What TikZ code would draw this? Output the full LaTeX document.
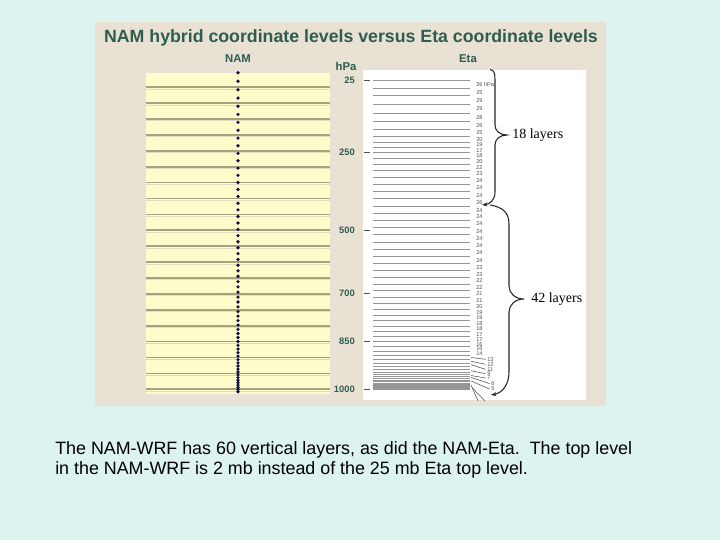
\documentclass[tikz,border=0pt]{standalone}
\usepackage{fontspec}
\setmainfont{Liberation Sans}
\newfontfamily\serifont{Liberation Serif}
\usetikzlibrary{arrows.meta}
\definecolor{bgcyan}{RGB}{221,243,240}
\definecolor{panelbg}{RGB}{232,225,212}
\definecolor{titlegreen}{RGB}{46,92,78}
\definecolor{namyellow}{RGB}{255,252,204}
\definecolor{oliveline}{RGB}{163,163,128}
\definecolor{olivelight}{RGB}{222,222,190}
\definecolor{dotnavy}{RGB}{16,16,72}
\definecolor{etagray}{RGB}{150,150,150}
\definecolor{labgray}{RGB}{80,80,80}
\frenchspacing
\begin{document}
\begin{tikzpicture}[x=0.75pt,y=-0.75pt,
  titletxt/.style={font=\fontsize{13.3pt}{15pt}\selectfont\bfseries, text=titlegreen, inner sep=0pt},
  headtxt/.style={font=\fontsize{8.5pt}{10pt}\selectfont\bfseries, text=titlegreen, inner sep=0pt},
  hpatxt/.style={font=\fontsize{7pt}{8pt}\selectfont\bfseries, text=titlegreen, inner sep=0pt, anchor=east},
  etalab/.style={font=\fontsize{4.2pt}{4.5pt}\selectfont, text=labgray, inner sep=0pt, anchor=west},
  namline/.style={draw=oliveline, line width=1.3pt},
  namlight/.style={draw=olivelight, line width=0.6pt},
  etaline/.style={draw=etagray, line width=0.5pt},
  ticklin/.style={draw=labgray, line width=0.7pt},
  bracelin/.style={draw=black!85, line width=0.8pt},
  layertxt/.style={font=\serifont\fontsize{10.5pt}{12pt}\selectfont, inner sep=0pt, anchor=west},
  captxt/.style={font=\fontsize{13.4pt}{15pt}\selectfont, inner sep=0pt, anchor=base west},
  leader/.style={draw=labgray, line width=0.4pt}
]
\useasboundingbox (0,0) rectangle (720,540);
\fill[bgcyan] (0,0) rectangle (720,540);
\fill[panelbg] (95,22) rectangle (606,406);

% title and headings
\node[titletxt] (title) at (351,38) {NAM hybrid coordinate levels versus Eta coordinate levels};
\node[headtxt] (namhead) at (238,59) {NAM};
\node[headtxt] (hpahead) at (346,66) {hPa};
\node[headtxt] (etahead) at (468,59) {Eta};

% NAM panel
\fill[namyellow] (146,72.5) rectangle (330,393.5);
\foreach \i in {0,...,19}{
  \pgfmathsetmacro{\yy}{87.2+\i*15.9}
  \pgfmathsetmacro{\yb}{\yy+1.8}
  \draw[namlight] (146,\yb) -- (330,\yb);
  \draw[namline] (146,\yy) -- (330,\yy);
}
\foreach \k in {0,...,60}{
  \pgfmathsetmacro{\tv}{\k/60}
  \pgfmathsetmacro{\yy}{72.7+319*(1.62*\tv-0.62*\tv*\tv)}
  \fill[dotnavy] (238,\yy) circle[radius=1.35pt];
}

% hPa scale
\node[hpatxt] (p25) at (355,80.5) {25};
\node[hpatxt] (p250) at (355,152) {250};
\node[hpatxt] (p500) at (355,230) {500};
\node[hpatxt] (p700) at (355,293) {700};
\node[hpatxt] (p850) at (355,341) {850};
\node[hpatxt] (p1000) at (355,389) {1000};

% Eta panel
\fill[white] (363,70) rectangle (586,400);
\foreach \y in {80.7,152,230,293,341,389.4}{
  \draw[ticklin] (363.5,\y) -- (370,\y);
}
\foreach \y in {80.7,88.4,95.8,104.3,112.9,121.2,128.9,136.3,142.2,147.8,152.8,158.1,164.0,170.5,177.3,184.4,191.5,198.6,206.0,
  213.2,220.4,227.6,234.8,242.0,249.2,256.4,263.7,270.6,277.5,284.1,290.7,297.0,303.3,309.3,315.0,320.7,326.1,331.5,336.6,341.7,346.5,351.3,355.5,359.4,363.0,366.3,369.3,372.0,374.4,376.5,378.3,380.1,381.6,383.1,384.3,385.5,386.4,387.3,388.2,388.8,389.4}{
  \draw[etaline] (373,\y) -- (470,\y);
}
% Eta layer labels
\node[etalab] (l1) at (476,84.6) {26 hPa};
\foreach \y/\t in {92.1/25,100.1/29,108.6/29,117.1/28,125.1/26,132.6/25,139.3/20,145.0/19,150.3/17,155.5/18,161.1/20,167.3/22,173.9/23,180.9/24,188.0/24,195.1/24,202.6/26,
  210.1/24,216.8/24,224.0/24,231.2/24,238.4/24,245.6/24,252.8/24,260.1/24,267.2/23,274.1/23,280.8/22,287.4/22,293.9/21,300.2/21,306.3/20,312.2/19,317.9/19,323.4/18,328.8/18,334.1/17,339.2/17,344.1/16,348.9/16,353.4/14}{
  \node[etalab] at (476,\y) {\t};
}
% bottom labels with leaders
\foreach \ym/\yl/\xl/\t in {357.5/359.3/487/13,361.2/364.3/487/12,364.7/369.3/487/11,370.7/373.8/487/9,375.5/378.0/487/7,377.4/383.6/491/6,380.9/389.0/491/5}{
  \draw[leader] (471,\ym) -- (\xl-1.5,\yl);
  \node[etalab] at (\xl,\yl) {\t};
}
\coordinate (ld1) at (478,401);
\coordinate (ld2) at (485,401);
\draw[leader] (471,385) -- (ld1);
\draw[leader] (472,387.5) -- (ld2);

% braces
\coordinate (b1top) at (490,69.5);
\coordinate (b1end) at (482,205);
\coordinate (b2top) at (490,205);
\coordinate (b2end) at (491,395);
\draw[bracelin, -{Stealth[length=4pt,width=3pt]}] (b1top) .. controls (494,70) and (495,73) .. (495,80) -- (495,125)
  .. controls (495,131) and (500,135) .. (507,135) .. controls (500,135) and (495,139) .. (495,145) -- (495,192)
  .. controls (495,200) and (490,204) .. (b1end);
\draw[bracelin, -{Stealth[length=4pt,width=3pt]}] (b2top) .. controls (502,207) and (509,212) .. (509,224) -- (509,286)
  .. controls (509,293) and (515,299) .. (524,299) .. controls (515,299) and (509,305) .. (509,312) -- (509,372)
  .. controls (509,385) and (502,393) .. (b2end);
\node[layertxt] (l18) at (512,135) {18 layers};
\node[layertxt] (l42) at (531,299) {42 layers};

% caption
\node[captxt] (cap1) at (55,454.5) {The NAM-WRF has 60 vertical layers, as did the NAM-Eta.\ \ The top level};
\node[captxt] (cap2) at (55,474.5) {in the NAM-WRF is 2 mb instead of the 25 mb Eta top level.};
\end{tikzpicture}
\end{document}
